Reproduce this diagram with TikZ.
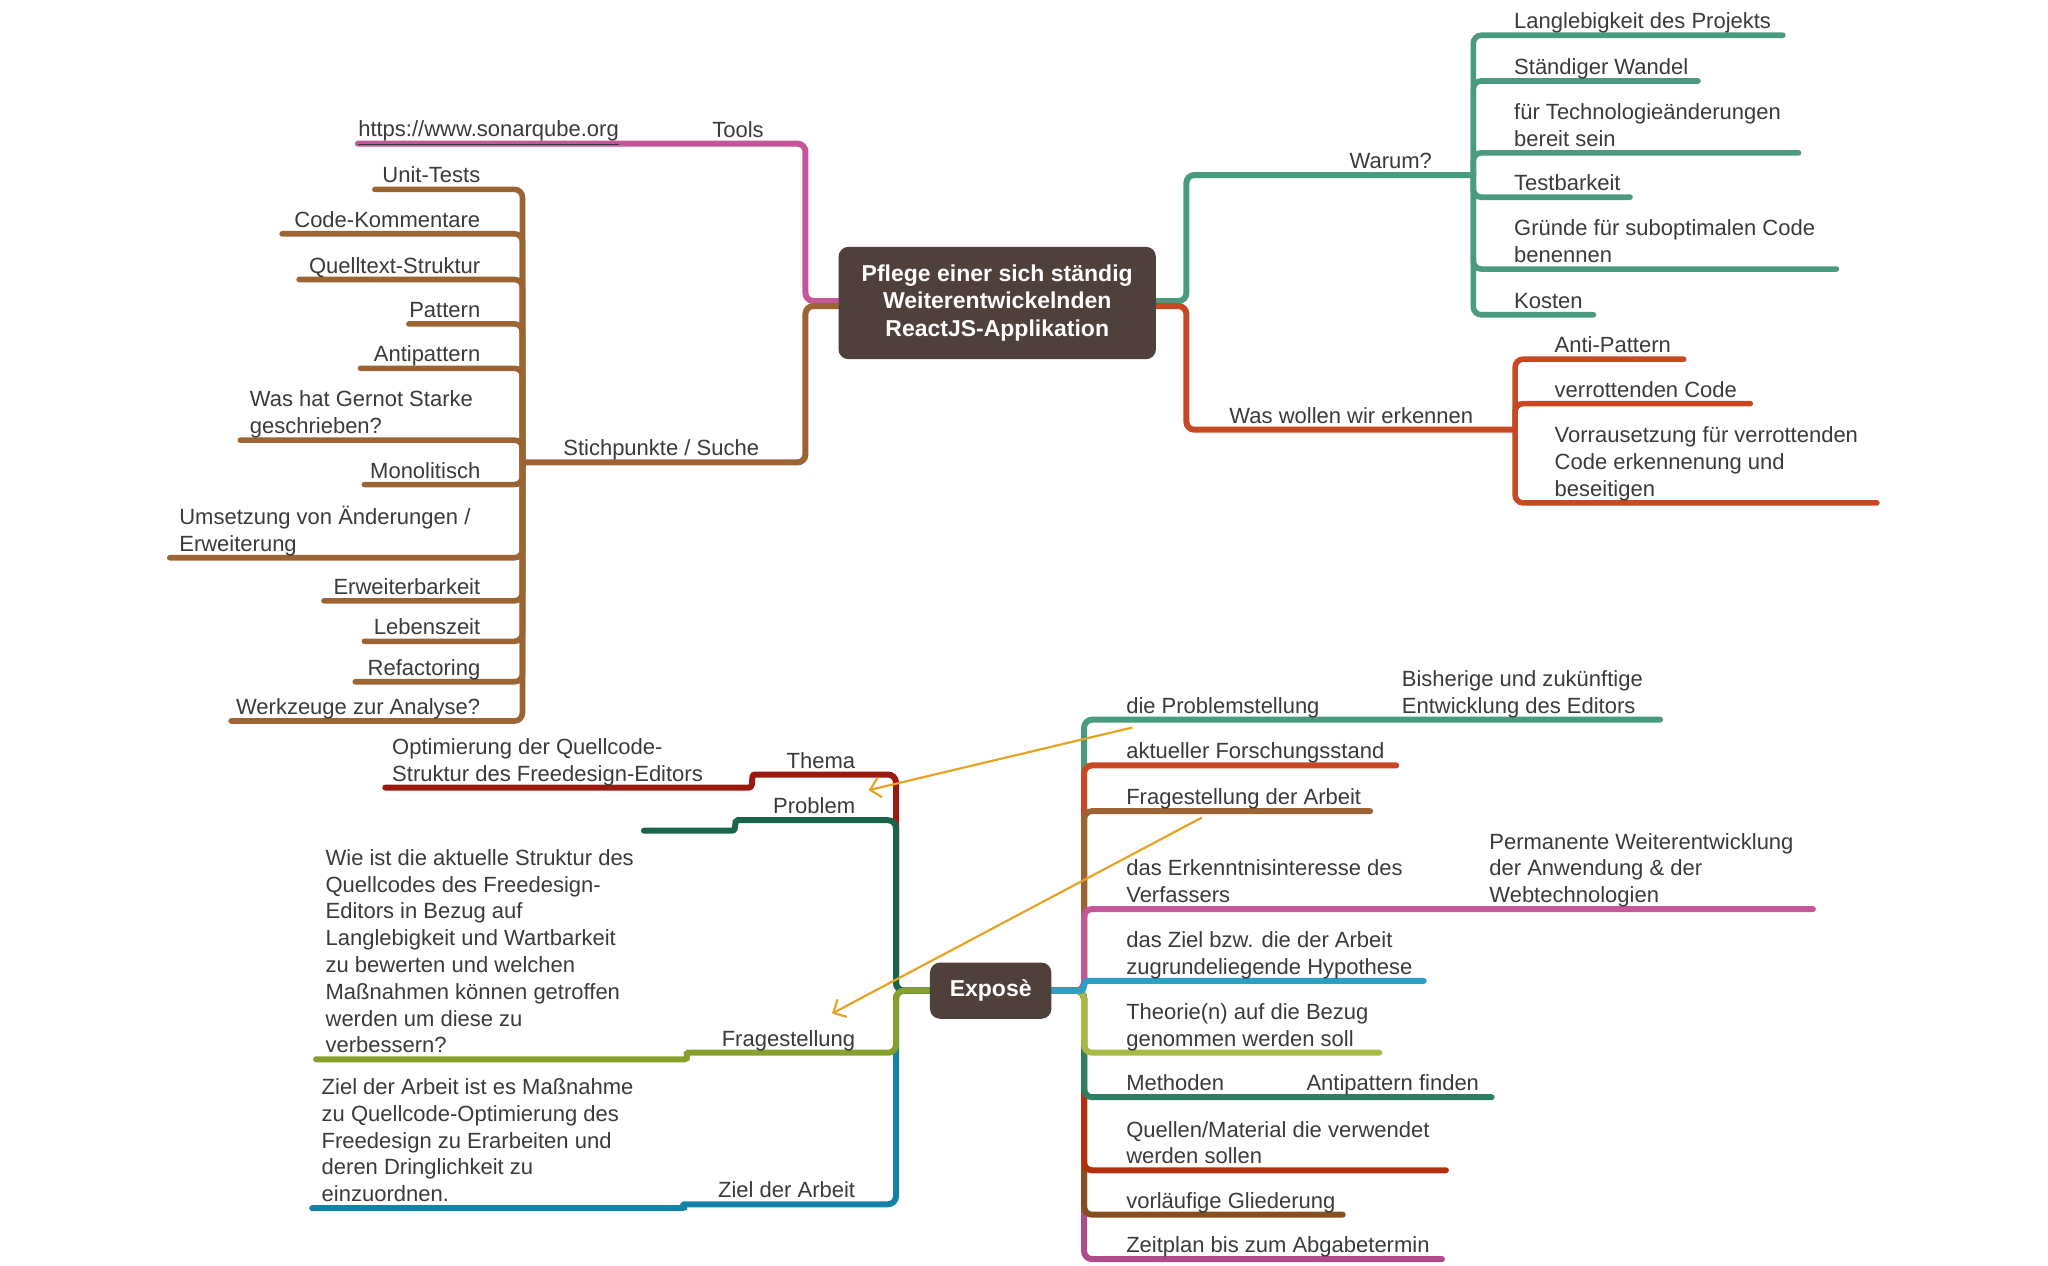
\documentclass[tikz,border=0pt]{standalone}
\usepackage{fontspec}
\setmainfont{Liberation Sans}
\usetikzlibrary{arrows.meta,backgrounds}

\definecolor{ink}{HTML}{3A3A3A}
\definecolor{rootc}{HTML}{50403C}
\definecolor{cPink}{HTML}{C4579A}
\definecolor{cBrown}{HTML}{9B6432}
\definecolor{cGreen}{HTML}{4A9B7D}
\definecolor{cOrange}{HTML}{C84823}
\definecolor{cThema}{HTML}{9B1A10}
\definecolor{cProblem}{HTML}{1A644B}
\definecolor{cFrage}{HTML}{87A02D}
\definecolor{cZiel}{HTML}{1482A5}
\definecolor{cZielB}{HTML}{2AA0C4}
\definecolor{cTheorie}{HTML}{A8BA42}
\definecolor{cMethoden}{HTML}{2E7F62}
\definecolor{cQuellen}{HTML}{B3300E}
\definecolor{cGliederung}{HTML}{85501F}
\definecolor{cZeitplan}{HTML}{B04A8A}
\definecolor{cArrow}{HTML}{E8A325}

% leaf: name, node style, colour, hub, line end x, line y, text x, text
\newcommand\mmleaf[8]{%
  \coordinate (#1) at (#5,#6);
  \node[#2] (#1t) at (#7,#6) {#8};
  \begin{pgfonlayer}{background}\draw[b2,#3] (#4) |- (#1);\end{pgfonlayer}}

\begin{document}
\begin{tikzpicture}[x=0.653pt,y=-0.653pt,
  txt/.style={font=\fontsize{11}{13.4}\selectfont, text=ink, inner sep=0pt, yshift=-1pt,
    execute at end node=\strut},
  lbl/.style={txt, anchor=south west, align=left},
  lblr/.style={txt, anchor=south east, align=right},
  rootbox/.style={fill=rootc, rounded corners=5pt, text=white, align=center, inner sep=0pt,
    font=\bfseries\fontsize{11.5}{13.7}\selectfont},
  b1/.style={line width=3pt, rounded corners=4pt, line cap=round},
  b2/.style={line width=2.8pt, rounded corners=4pt, line cap=round},
  link/.style={cArrow, line width=1.1pt, -{Straight Barb[length=5pt,width=10pt]}}]
\useasboundingbox (0,0) rectangle (1568,969);

% ---------- central topics ----------
\node[rootbox, minimum width=158.7pt, minimum height=56.2pt] (pflege) at (763.5,232)
  {Pflege einer sich ständig\\Weiterentwickelnden\\ReactJS-Applikation};
\node[rootbox, minimum width=60.7pt, minimum height=28.1pt] (expose) at (758.5,758.5) {Exposè};

% ---------- Tools ----------
\coordinate (toolsE) at (274,110);
\node[lblr] (tools) at (585,110) {Tools};
\node[lbl] (sonar) at (274,110) {\underline{https://www.sonarqube.org}};
\begin{pgfonlayer}{background}
\draw[b1,cPink] ([yshift=1pt]pflege.west) -- ++(-25,0) |- (toolsE);
\end{pgfonlayer}

% ---------- Stichpunkte / Suche ----------
\coordinate (stichHub) at (400,354);
\node[lbl] (stich) at (431,354) {Stichpunkte / Suche};
\begin{pgfonlayer}{background}
\draw[b1,cBrown] ([yshift=-1.5pt]pflege.west) -- ++(-25,0) |- (stichHub);
\end{pgfonlayer}
\mmleaf{s1}{lblr}{cBrown}{stichHub}{287}{145}{368}{Unit-Tests}
\mmleaf{s2}{lblr}{cBrown}{stichHub}{216}{179}{368}{Code-Kommentare}
\mmleaf{s3}{lblr}{cBrown}{stichHub}{229}{214}{368}{Quelltext-Struktur}
\mmleaf{s4}{lblr}{cBrown}{stichHub}{313}{248}{368}{Pattern}
\mmleaf{s5}{lblr}{cBrown}{stichHub}{276}{282}{368}{Antipattern}
\mmleaf{s6}{lbl}{cBrown}{stichHub}{184}{337}{191}{Was hat Gernot Starke\\geschrieben?}
\mmleaf{s7}{lblr}{cBrown}{stichHub}{279}{371}{368}{Monolitisch}
\mmleaf{s8}{lbl}{cBrown}{stichHub}{130}{427}{137}{Umsetzung von Änderungen /\\Erweiterung}
\mmleaf{s9}{lblr}{cBrown}{stichHub}{248}{460}{368}{Erweiterbarkeit}
\mmleaf{s10}{lblr}{cBrown}{stichHub}{279}{491}{368}{Lebenszeit}
\mmleaf{s11}{lblr}{cBrown}{stichHub}{272}{522}{368}{Refactoring}
\mmleaf{s12}{lblr}{cBrown}{stichHub}{177}{552}{368}{Werkzeuge zur Analyse?}

% ---------- Warum? ----------
\coordinate (warumHub) at (1128,134);
\node[lbl] (warum) at (1033,134) {Warum?};
\begin{pgfonlayer}{background}
\draw[b1,cGreen] ([yshift=1pt]pflege.east) -- ++(23,0) |- (warumHub);
\end{pgfonlayer}
\mmleaf{w1}{lbl}{cGreen}{warumHub}{1365}{27}{1159}{Langlebigkeit des Projekts}
\mmleaf{w2}{lbl}{cGreen}{warumHub}{1300}{62}{1159}{Ständiger Wandel}
\mmleaf{w3}{lbl}{cGreen}{warumHub}{1377}{117}{1159}{für Technologieänderungen\\bereit sein}
\mmleaf{w4}{lbl}{cGreen}{warumHub}{1248}{151}{1159}{Testbarkeit}
\mmleaf{w5}{lbl}{cGreen}{warumHub}{1406}{206}{1159}{Gründe für suboptimalen Code\\benennen}
\mmleaf{w6}{lbl}{cGreen}{warumHub}{1220}{241}{1159}{Kosten}

% ---------- Was wollen wir erkennen ----------
\coordinate (wasHub) at (1160,329);
\node[lbl] (was) at (941,329) {Was wollen wir erkennen};
\begin{pgfonlayer}{background}
\draw[b1,cOrange] ([yshift=-1.5pt]pflege.east) -- ++(23,0) |- (wasHub);
\end{pgfonlayer}
\mmleaf{e1}{lbl}{cOrange}{wasHub}{1289}{275}{1190}{Anti-Pattern}
\mmleaf{e2}{lbl}{cOrange}{wasHub}{1340}{309}{1190}{verrottenden Code}
\mmleaf{e3}{lbl}{cOrange}{wasHub}{1437}{385}{1190}{Vorrausetzung für verrottenden\\Code erkennenung und\\beseitigen}

% ---------- Exposè, left side ----------
\coordinate (eL) at (686,758.5);
\coordinate (themaE) at (295,603);
\coordinate (problemE) at (493,636);
\coordinate (frageE) at (242,811);
\coordinate (zielE) at (239,925);
\node[lblr] (thema) at (655,593) {Thema};
\node[lbl] (themaC) at (300,603) {Optimierung der Quellcode-\\Struktur des Freedesign-Editors};
\node[lblr] (problem) at (655,628) {Problem};
\node[lblr] (frage) at (655,806) {Fragestellung};
\node[lbl] (frageC) at (249,811) {Wie ist die aktuelle Struktur des\\Quellcodes des Freedesign-\\Editors in Bezug auf\\Langlebigkeit und Wartbarkeit\\zu bewerten und welchen\\Maßnahmen können getroffen\\werden um diese zu\\verbessern?};
\node[lblr] (ziel) at (655,922) {Ziel der Arbeit};
\node[lbl] (zielC) at (246,925) {Ziel der Arbeit ist es Maßnahme\\zu Quellcode-Optimierung des\\Freedesign zu Erarbeiten und\\deren Dringlichkeit zu\\einzuordnen.};
\begin{pgfonlayer}{background}
\draw[b1,cThema] (expose.west) -- (eL) |- (584,593)
  .. controls (574,593) and (578,603) .. (567,603) -- (themaE);
\draw[b1,cProblem] (expose.west) -- (eL) |- (571,628)
  .. controls (561,628) and (565,636) .. (554,636) -- (problemE);
\draw[b1,cZiel] (expose.west) -- (eL) |- (530,922)
  .. controls (522,922) and (526,925) .. (516,925) -- (zielE);
\draw[b1,cFrage] (expose.west) -- (eL) |- (533,806)
  .. controls (524,806) and (528,811) .. (518,811) -- (frageE);
\end{pgfonlayer}

% ---------- Exposè, right side ----------
\coordinate (eR) at (830,758.5);
\coordinate (r1) at (1271,551);
\coordinate (r2) at (1069,586);
\coordinate (r3) at (1049,621);
\coordinate (r4) at (1388,696);
\coordinate (r5) at (1090,751);
\coordinate (r6) at (1056,806);
\coordinate (r7) at (1142,840);
\coordinate (r8) at (1107,896);
\coordinate (r9) at (1028,930);
\coordinate (r10) at (1104,964);
\node[lbl] (r1t) at (862,551) {die Problemstellung};
\node[lbl] (r1c) at (1073,551) {Bisherige und zukünftige\\Entwicklung des Editors};
\node[lbl] (r2t) at (862,586) {aktueller Forschungsstand};
\node[lbl] (r3t) at (862,621) {Fragestellung der Arbeit};
\node[lbl] (r4t) at (862,696) {das Erkenntnisinteresse des\\Verfassers};
\node[lbl] (r4c) at (1140,696) {Permanente Weiterentwicklung\\der Anwendung \& der\\Webtechnologien};
\node[lbl] (r5t) at (862,751) {das Ziel bzw. die der Arbeit\\zugrundeliegende Hypothese};
\node[lbl] (r6t) at (862,806) {Theorie(n) auf die Bezug\\genommen werden soll};
\node[lbl] (r7t) at (862,840) {Methoden};
\node[lbl] (r7c) at (1000,840) {Antipattern finden};
\node[lbl] (r8t) at (862,896) {Quellen/Material die verwendet\\werden sollen};
\node[lbl] (r9t) at (862,930) {vorläufige Gliederung};
\node[lbl] (r10t) at (862,964) {Zeitplan bis zum Abgabetermin};
\begin{pgfonlayer}{background}
\draw[b1,cGreen] (expose.east) -- (eR) |- (r1);
\draw[b1,cOrange] (expose.east) -- (eR) |- (r2);
\draw[b1,cBrown] (expose.east) -- (eR) |- (r3);
\draw[b1,cPink] (expose.east) -- (eR) |- (r4);
\draw[b1,cZeitplan] (expose.east) -- (eR) |- (r10);
\draw[b1,cGliederung] (expose.east) -- (eR) |- (r9);
\draw[b1,cQuellen] (expose.east) -- (eR) |- (r8);
\draw[b1,cMethoden] (expose.east) -- (eR) |- (r7);
\draw[b1,cTheorie] (expose.east) -- (eR) |- (r6);
\draw[b1,cZielB] (expose.east) -- (822,758.5)
  .. controls (830,758.5) and (830,751) .. (838,751) -- (r5);
\end{pgfonlayer}

% ---------- cross links ----------
\coordinate (a1s) at (867,557);
\coordinate (a1e) at (665,605);
\coordinate (a2s) at (920,626);
\coordinate (a2e) at (637,776);
\draw[link] (a1s) -- (a1e);
\draw[link] (a2s) -- (a2e);
\end{tikzpicture}
\end{document}
